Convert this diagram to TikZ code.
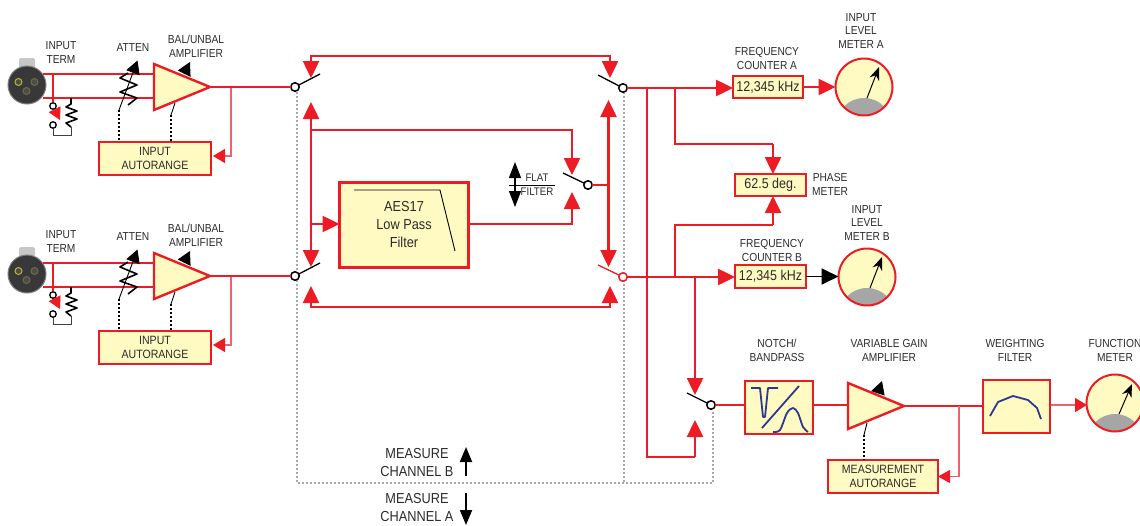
\documentclass[tikz,border=0pt]{standalone}
\usepackage{fontspec}
\setmainfont{Liberation Sans}[FakeStretch=0.88]
\usepackage{xcolor}
\usetikzlibrary{shapes.geometric,calc,arrows.meta}
\definecolor{sigred}{HTML}{ED1C24}
\definecolor{thinred}{HTML}{F0626A}
\definecolor{boxbg}{HTML}{FFFAC2}
\definecolor{curveblue}{HTML}{2B3990}
\definecolor{inktext}{HTML}{2B2B2B}
\definecolor{dotgray}{HTML}{A7A9AC}
\tikzset{
  lbl/.style={inner sep=0pt, align=center, text=inktext, font=\fontsize{11.6}{13.6}\selectfont},
  lblbig/.style={inner sep=0pt, align=center, text=inktext, font=\fontsize{14.5}{18}\selectfont},
  rbox/.style={draw=sigred, line width=2.6pt, fill=boxbg, inner sep=0pt, outer sep=0pt, align=center, text=inktext},
  amp/.style={isosceles triangle, isosceles triangle apex angle=45, isosceles triangle stretches,
    draw=sigred, line width=2.4pt, fill=boxbg, inner sep=0pt, outer sep=0pt, minimum width=46pt, minimum height=56pt},
  swnode/.style={circle, draw=black, line width=1.5pt, fill=white, minimum size=8.5pt, inner sep=0pt, outer sep=0pt},
  redline/.style={draw=sigred, line width=2.5pt},
  redarrow/.style={redline, -{Triangle[length=17pt,width=16pt]}},
  lightline/.style={draw=thinred, line width=1.2pt},
  dotline/.style={draw=black, line width=2pt, dash pattern=on 2pt off 2pt},
  grayline/.style={draw=dotgray, line width=2pt, dash pattern=on 2pt off 2pt},
  ctrlhead/.style={draw=black, line width=0.9pt, -{Triangle[length=13pt,width=14pt]}},
  curveline/.style={draw=curveblue, line width=1.8pt, line join=round},
}
\begin{document}
\begin{tikzpicture}[x=1pt, y=-1pt]
  \useasboundingbox (0,0) rectangle (1140,525);

  % Selector dotted frame
  \coordinate (frameTL) at (297,92);
  \coordinate (frameTR) at (623.5,92);
  \coordinate (frameBL) at (297,483);
  \coordinate (frameBR) at (623.5,483);
  \coordinate (frameEnd) at (712.5,483);
  \coordinate (frameUp) at (712.5,410);
  \draw[grayline] (frameTL) -- (frameBL) -- (frameEnd) -- (frameUp);
  \draw[grayline] (frameTR) -- (frameBR);

  % Two input channels
  \foreach \ch/\dy in {A/0,B/189} {
    \node[rounded corners=2pt, fill=black!22, minimum width=16pt, minimum height=10pt, inner sep=0pt] (tab\ch) at (27,63+\dy) {};
    \node[circle, fill=black!78, draw=black!50, line width=1pt, minimum size=38pt, inner sep=0pt] (xlr\ch) at (27,85+\dy) {};
    \node[circle, fill=black!70, draw=yellow!70!black, line width=1pt, minimum size=7pt, inner sep=0pt] (pinL\ch) at (18.5,82+\dy) {};
    \node[circle, fill=black!70, draw=yellow!35!black, line width=1pt, minimum size=7pt, inner sep=0pt] (pinR\ch) at (34.5,82+\dy) {};
    \node[circle, fill=black!70, draw=yellow!35!black, line width=1pt, minimum size=7pt, inner sep=0pt] (pinB\ch) at (26.5,91+\dy) {};
    \node[lbl] (termLbl\ch) at (61,52.5+\dy) {INPUT\\TERM};
    \node[lbl] (attenLbl\ch) at (133,48+\dy) {ATTEN};
    \node[lbl] (ampLbl\ch) at (196,46.5+\dy) {BAL/UNBAL\\AMPLIFIER};

    \node[amp, anchor=west] (amp\ch) at (154,87+\dy) {};
    \node[rbox, minimum width=112pt, minimum height=33pt, font=\fontsize{12}{13.4}\selectfont] (range\ch) at (155,158.5+\dy) {INPUT\\AUTORANGE};
    \coordinate (rangeIn\ch) at (213,156+\dy);

    % balanced pair into the amplifier
    \coordinate (hotS\ch) at (43,74+\dy);
    \coordinate (hotE\ch) at (154,74+\dy);
    \coordinate (coldS\ch) at (43,98+\dy);
    \coordinate (coldE\ch) at (154,98+\dy);
    \draw[redline] (hotS\ch) -- (hotE\ch);
    \draw[redline] (coldS\ch) -- (coldE\ch);

    % termination switch
    \node[circle, draw=black, line width=1.3pt, fill=white, minimum size=6.5pt, inner sep=0pt] (termT\ch) at (53,106+\dy) {};
    \node[circle, draw=black, line width=1.3pt, fill=white, minimum size=6.5pt, inner sep=0pt] (termB\ch) at (53,125+\dy) {};
    \coordinate (termHot\ch) at (53,74+\dy);
    \coordinate (termTip\ch) at (60,120+\dy);
    \draw[sigred, line width=1.2pt] (termHot\ch) -- (termT\ch);
    \draw[sigred, line width=0.6pt, -{Triangle[length=12pt,width=13pt]}] (termT\ch) -- (termTip\ch);
    \draw[black, line width=1.6pt, line join=round] (71,98+\dy) -- (71,104+\dy) -- (66,107+\dy) -- (77,111+\dy) -- (66,115+\dy) -- (77,119+\dy) -- (66,123+\dy) -- (71,127+\dy);
    \draw[black!75, line width=1pt] (termB\ch) |- (71,135+\dy) -- (71,127+\dy);

    % attenuator
    \draw[black, line width=1.6pt, line join=round] (128,73+\dy) -- (120,78+\dy) -- (137,85+\dy) -- (120,92+\dy) -- (137,98+\dy) -- (128,105+\dy);
    \coordinate (attenEnd\ch) at (119,110+\dy);
    \coordinate (attenTip\ch) at (137.5,60.5+\dy);
    \draw[ctrlhead] (attenEnd\ch) -- (attenTip\ch);
    \draw[dotline] (attenEnd\ch) -- (attenEnd\ch |- range\ch.north);

    % amplifier gain control
    \coordinate (gainS\ch) at (184,74+\dy);
    \coordinate (gainTip\ch) at (190,62+\dy);
    \draw[ctrlhead] (gainS\ch) -- (gainTip\ch);
    \coordinate (gainFoot\ch) at (175,103+\dy);
    \coordinate (gainBend\ch) at (171,115+\dy);
    \draw[black, line width=0.9pt] (gainFoot\ch) -- (gainBend\ch);
    \draw[dotline] (gainBend\ch) -- (gainBend\ch |- range\ch.north);

    % amplifier output and autorange tap
    \coordinate (tap\ch) at (231,87+\dy);
    \draw[lightline, -{Triangle[length=12pt,width=14pt,sigred]}] (tap\ch) |- (rangeIn\ch);
  }

  % Switches: terminal, blade end
  \foreach \sw/\tx/\ty/\bx/\by/\col in {swInA/295/87/320/74/black, swInB/295/276/320/263/black,
      swFlat/588/185/563/173/black, swOutA/623/88/598/75/black, swOutB/623/277/598/265/sigred, swNotch/711/405/687/393/black} {
    \node[swnode, draw=\col] (\sw) at (\tx,\ty) {};
    \coordinate (blade\sw) at (\bx,\by);
    \draw[\col, line width=1.3pt] (\sw) -- (blade\sw);
  }
  \draw[redline] (ampA.apex) -- (swInA);
  \draw[redline] (ampB.apex) -- (swInB);

  % AES17 filter
  \node[rbox, minimum width=129pt, minimum height=85pt, font=\fontsize{14.5}{18}\selectfont] (aes) at (404,225) {AES17\\Low Pass\\Filter};
  \draw[black, line width=0.9pt] (354,190) -- (440,190) -- (455,251);

  % Selector buses
  \coordinate (busTL) at (311,56);
  \coordinate (busTR) at (610,56);
  \coordinate (tipTL) at (311,78);
  \coordinate (tipTR) at (610,78);
  \draw[redarrow] (busTR) -- (busTL) -- (tipTL);
  \draw[redarrow] (busTL) -- (busTR) -- (tipTR);
  \coordinate (busBL) at (311,307);
  \coordinate (busBR) at (610,307);
  \coordinate (tipBL) at (311,286);
  \coordinate (tipBR) at (610,286);
  \draw[redarrow] (busBR) -- (busBL) -- (tipBL);
  \draw[redarrow] (busBL) -- (busBR) -- (tipBR);

  \coordinate (inUp) at (311,102);
  \coordinate (inDown) at (311,267);
  \draw[redline, {Triangle[length=17pt,width=16pt]}-{Triangle[length=17pt,width=16pt]}] (inUp) -- (inDown);
  \coordinate (outUp) at (608.5,100);
  \coordinate (outDown) at (608.5,267);
  \draw[redline, {Triangle[length=17pt,width=16pt]}-{Triangle[length=17pt,width=16pt]}] (outUp) -- (outDown);

  \coordinate (flatJ) at (311,130);
  \coordinate (flatTip) at (572,175);
  \coordinate (filtJ) at (311,224);
  \coordinate (filtTip) at (572,192);
  \draw[redarrow] (flatJ) -| (flatTip);
  \draw[redarrow] (filtJ) -- (filtJ -| aes.west);
  \draw[redarrow] (filtJ -| aes.east) -| (filtTip);
  \draw[redline] (swFlat) -- (swFlat -| outUp);

  % Flat / filter label
  \node[lbl, font=\fontsize{11}{13}\selectfont] (flatLbl) at (537,177.5) {FLAT};
  \node[lbl, font=\fontsize{11}{13}\selectfont] (filterLbl) at (537,192) {FILTER};
  \coordinate (flatRuleL) at (509,185);
  \coordinate (flatRuleR) at (555,185);
  \coordinate (flatUp) at (515,162);
  \coordinate (flatDown) at (515,207);
  \coordinate (flatMid) at (515,185);
  \draw[black, line width=0.8pt] (flatRuleL) -- (flatRuleR);
  \draw[black, line width=1.2pt, -{Triangle[length=16pt,width=12pt]}] (flatMid) -- (flatUp);
  \draw[black, line width=1.2pt, -{Triangle[length=16pt,width=12pt]}] (flatMid) -- (flatDown);

  % Measure channel labels
  \node[lblbig] (measB) at (417,462.5) {MEASURE\\CHANNEL B};
  \node[lblbig] (measA) at (417,507.5) {MEASURE\\CHANNEL A};
  \coordinate (measBs) at (466,476);
  \coordinate (measBt) at (466,447);
  \coordinate (measAs) at (466,493);
  \coordinate (measAt) at (466,525);
  \draw[black, line width=1.8pt, -{Triangle[length=15pt,width=12pt]}] (measBs) -- (measBt);
  \draw[black, line width=1.8pt, -{Triangle[length=15pt,width=12pt]}] (measAs) -- (measAt);

  % Counters and phase meter
  \node[rbox, minimum width=70pt, minimum height=22pt, font=\fontsize{14.2}{16}\selectfont] (countA) at (768,87) {12,345 kHz};
  \node[rbox, minimum width=71pt, minimum height=22pt, font=\fontsize{14.2}{16}\selectfont] (phase) at (770.5,185) {62.5 deg.};
  \node[rbox, minimum width=71pt, minimum height=23pt, font=\fontsize{14.2}{16}\selectfont] (countB) at (770.5,276.5) {12,345 kHz};
  \node[lbl] (countLblA) at (767,58.5) {FREQUENCY\\COUNTER A};
  \node[lbl] (countLblB) at (772,250.5) {FREQUENCY\\COUNTER B};
  \node[lbl, anchor=west] (phaseLbl) at (812,184.5) {PHASE\\METER};
  \node[lbl] (levelLblA) at (861,31) {INPUT\\LEVEL\\METER A};
  \node[lbl] (levelLblB) at (867,223) {INPUT\\LEVEL\\METER B};

  % Meters: center, needle foot, needle tip
  \foreach \m/\cx/\cy/\fx/\fy/\tx/\ty in {levelA/864/87/867/98/879/67, levelB/867/277/870/288/882/257, func/1115/403/1119/414/1132/384} {
    \node[circle, fill=boxbg, minimum size=57pt, inner sep=0pt, outer sep=0pt] (\m) at (\cx,\cy) {};
    \begin{scope}
      \clip (\m.center) circle (28.5pt);
      \fill[black!35] (\cx,\cy+39) circle (28pt);
    \end{scope}
    \node[circle, draw=sigred, line width=2pt, minimum size=57pt, inner sep=0pt, outer sep=0pt] (\m Rim) at (\cx,\cy) {};
    \coordinate (\m Foot) at (\fx,\fy);
    \coordinate (\m Tip) at (\tx,\ty);
    \draw[black, line width=1pt, -{Stealth[length=13pt,width=10pt]}] (\m Foot) -- (\m Tip);
  }

  % Lower measurement chain
  \node[rbox, minimum width=68pt, minimum height=53pt] (notch) at (779,407.5) {};
  \node[amp, anchor=west] (ampM) at (848,406) {};
  \node[rbox, minimum width=67pt, minimum height=53pt] (weight) at (1016.5,406.5) {};
  \node[rbox, minimum width=110pt, minimum height=33pt, font=\fontsize{12}{13.4}\selectfont] (rangeM) at (883,476.5) {MEASUREMENT\\AUTORANGE};
  \node[lbl] (notchLbl) at (777,350.5) {NOTCH/\\BANDPASS};
  \node[lbl] (ampLblM) at (889,350.5) {VARIABLE GAIN\\AMPLIFIER};
  \node[lbl] (weightLbl) at (1015,350.5) {WEIGHTING\\FILTER};
  \node[lbl] (funcLbl) at (1115,350.5) {FUNCTION\\METER};
  \draw[curveline] (751,388) -- (760,388) -- (763,417) -- (765,417) -- (768,388) -- (778,388);
  \draw[curveline] (762,428) -- (799,386);
  \draw[curveline] plot[smooth] coordinates {(773,432) (780,430) (787,413) (793,408) (798,413) (803,427) (808,432)};
  \draw[curveline] (990,416) -- (998,402) -- (1013,396) -- (1028,400) -- (1037,408) -- (1041,419);

  % Routing to the outputs
  \draw[redarrow] (swOutA) -- (swOutA -| countA.west);
  \draw[redarrow] (countA.east) -- (levelA);
  \draw[redarrow] (swOutB) -- (swOutB -| countB.west);
  \draw[black, line width=1.8pt, -{Triangle[length=17pt,width=16pt]}] (countB.east) -- (countB.east -| levelB.west);
  \coordinate (outAj1) at (647,88);
  \coordinate (outAj2) at (675,88);
  \coordinate (outBj1) at (675,277);
  \coordinate (outBj2) at (695,277);
  \coordinate (phaseTop) at (773,144);
  \coordinate (phaseBot) at (773,225);
  \coordinate (notchLow) at (695,457);
  \coordinate (notchTipUp) at (695,420);
  \coordinate (notchTipDn) at (695,395);
  \draw[redline] (outAj2) |- (phaseTop);
  \draw[redarrow] (phaseTop) -- (phaseTop |- phase.north);
  \draw[redline] (outBj1) |- (phaseBot);
  \draw[redarrow] (phaseBot) -- (phaseBot |- phase.south);
  \draw[redline] (outAj1) |- (notchLow);
  \draw[redarrow] (notchLow) -- (notchTipUp);
  \draw[redarrow] (outBj2) -- (notchTipDn);

  \draw[redline] (swNotch) -- (swNotch -| notch.west);
  \draw[redline] (swNotch -| notch.east) -- (swNotch -| ampM.west);
  \draw[redline] (ampM.apex) -- (ampM.apex -| weight.west);
  \coordinate (tapM) at (959,406);
  \coordinate (rangeInM) at (rangeM.east);
  \draw[lightline, -{Triangle[length=12pt,width=13pt,sigred]}] (tapM) |- (rangeInM);
  \coordinate (weightOut) at (1051,405);
  \coordinate (funcIn) at (1087,405);
  \draw[lightline, line width=1.5pt, -{Triangle[length=12pt,width=14pt,sigred]}] (weightOut) -- (funcIn);

  % Gain control of measurement amp
  \coordinate (gainSM) at (878,393);
  \coordinate (gainTipM) at (882,381);
  \draw[ctrlhead] (gainSM) -- (gainTipM);
  \coordinate (gainFootM) at (867,423);
  \coordinate (gainBendM) at (864,435);
  \draw[black, line width=0.9pt] (gainFootM) -- (gainBendM);
  \draw[dotline] (gainBendM) -- (gainBendM |- rangeM.north);
\end{tikzpicture}
\end{document}
